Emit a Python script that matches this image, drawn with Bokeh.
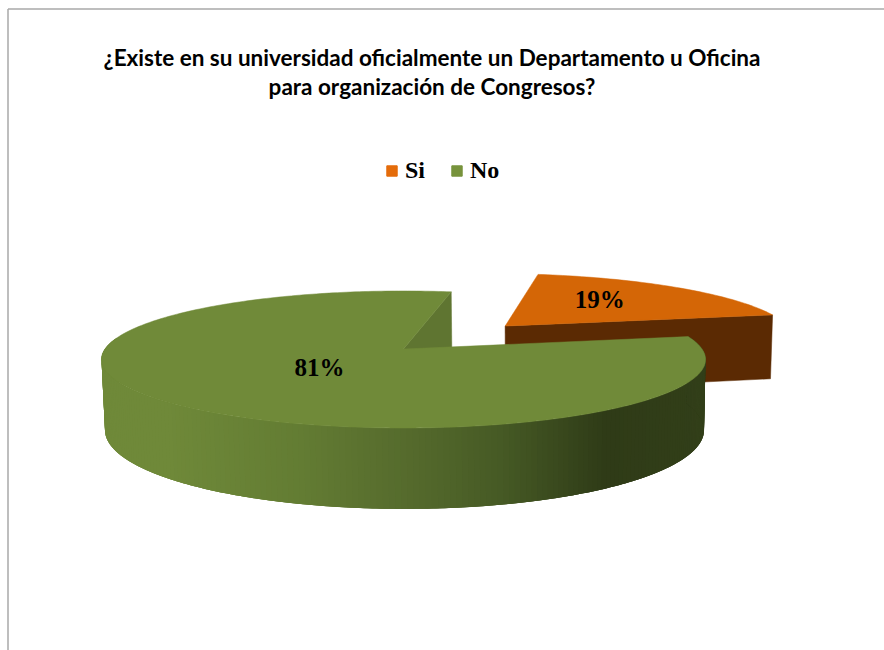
import math
from bokeh.plotting import figure
from bokeh.models import Legend, LegendItem, ColumnDataSource
from bokeh.core.properties import value
from bokeh.embed import file_html
from bokeh.resources import INLINE

# ---- data ----
categories = ["Si", "No"]
values = [19, 81]
labels = ["19%", "81%"]
title_lines = ["¿Existe en su universidad oficialmente un Departamento u Oficina",
               "para organización de Congresos?"]

# ---- styles ----
legend_colors = ["#e46c0a", "#77933c"]
top_colors = ["#d46606", "#708a39"]
orange_wall = "#5b2a03"
green_inner = "#5f7531"
start_deg = 79.4      # where the first slice begins; slices run clockwise from the top view
explode = [0.51, 0.0]
W, H = 884, 650

# perspective projection of the pie: top and bottom discs
TOP = dict(x0=403.0, y0=348.5, a=298.5, b=66.9)
BOT = dict(x0=404.0, y0=417.5, a=296.0, b=77.0)
K = 0.153


def proj(X, T, d):
    den = 1 + K * T
    return d["x0"] + d["a"] * X / den, d["y0"] - d["b"] * T / den


def rim(theta, off, d, rho=1.0):
    t = math.radians(theta)
    return proj(off[0] + rho * math.cos(t), off[1] + rho * math.sin(t), d)


# slice angles from the values
total = sum(values)
si_a1 = start_deg
si_a0 = start_deg - 360.0 * values[0] / total
si_e = explode[0]
no_start = start_deg
no_end = si_a0 + 360.0
ang = math.radians(0.5 * (si_a0 + si_a1))
si_off = (si_e * math.cos(ang), si_e * math.sin(ang))
no_off = (0.0, 0.0)


def lerp_color(c0, c1, f):
    a = [int(c0[i:i + 2], 16) for i in (1, 3, 5)]
    b = [int(c1[i:i + 2], 16) for i in (1, 3, 5)]
    return "#%02x%02x%02x" % tuple(round(p + (q - p) * f) for p, q in zip(a, b))


def wall_shade(x):
    stops = [(100, "#6f8939"), (165, "#6f8939"), (300, "#637c33"), (400, "#566c2d"),
             (500, "#465a25"), (605, "#2f3b17"), (710, "#323f19")]
    for (x0, c0), (x1, c1) in zip(stops, stops[1:]):
        if x <= x1:
            return lerp_color(c0, c1, max(0.0, (x - x0) / (x1 - x0)))
    return stops[-1][1]


p = figure(width=W, height=H, x_range=(0, W), y_range=(H, 0),
           output_backend="svg", toolbar_location=None, min_border=0,
           outline_line_color=None, background_fill_color="white",
           border_fill_color="white")
p.axis.visible = False
p.grid.visible = False

# sheet edges of the source picture
p.line([7.5, 7.5], [H, 8.5], line_color="#a8a8a8", line_width=1.5)
p.line([7.5, W], [8.5, 8.5], line_color="#a8a8a8", line_width=1.5)

# ---- orange slice ----
ox0, oy0 = proj(si_off[0], si_off[1], TOP)
bx0, by0 = proj(si_off[0], si_off[1], BOT)
ox1, oy1 = rim(si_a0, si_off, TOP)
bx1, by1 = rim(si_a0, si_off, BOT)
p.patch([ox0, ox1, bx1, bx0], [oy0, oy1, by1, by0], fill_color=orange_wall, line_color=orange_wall, line_width=0.5)
n = 60
arc = [rim(si_a0 + (si_a1 - si_a0) * i / n, si_off, TOP) for i in range(n + 1)]
p.patch([ox0] + [q[0] for q in arc], [oy0] + [q[1] for q in arc],
        fill_color=top_colors[0], line_color=top_colors[0], line_width=0.5)

# ---- green slice: inner cut face ----
ax, ay = proj(0, 0, TOP)
ax2, ay2 = proj(0, 0, BOT)
rx, ry = rim(no_start, no_off, TOP)
rx2, ry2 = rim(no_start, no_off, BOT)
p.patch([ax, rx, rx2, ax2], [ay, ry, ry2, ay2], fill_color=green_inner, line_color=green_inner, line_width=0.5)

# ---- green slice: outer wall, overlapping strips painted left to right for the gradient ----
m = 200
a_from, a_to = 170.0, no_end
xs, ys, cs = [], [], []
for i in range(m):
    t0 = a_from + (a_to - a_from) * i / m
    t1 = min(a_to, a_from + (a_to - a_from) * (i + 3) / m)
    mid = rim(0.5 * (t0 + a_from + (a_to - a_from) * (i + 1) / m), no_off, TOP)
    tt = [t0 + (t1 - t0) * j / 4 for j in range(5)]
    up = [rim(t, no_off, TOP) for t in tt]
    lo = [rim(t, no_off, BOT) for t in reversed(tt)]
    xs.append([q[0] for q in up + lo])
    ys.append([q[1] for q in up + lo])
    cs.append(wall_shade(mid[0]))
p.patches(xs, ys, fill_color=cs, line_color=None)

# ---- green slice: top face ----
n = 300
arc = [rim(no_start + (no_end - no_start) * i / n, no_off, TOP) for i in range(n + 1)]
p.patch([ax] + [q[0] for q in arc], [ay] + [q[1] for q in arc],
        fill_color=top_colors[1], line_color=top_colors[1], line_width=0.5)

# ---- data labels ----
label_pos = [rim(0.5 * (si_a0 + si_a1) + 5.4, si_off, TOP, 0.60),
             rim(0.5 * (no_start + no_end), no_off, TOP, 0.383)]
p.text([q[0] for q in label_pos], [q[1] for q in label_pos], text=labels,
       text_font=value("Liberation Serif"), text_font_style="bold", text_font_size="25px",
       text_align="center", text_baseline="middle", text_color="#000000")

# ---- title ----
p.text([431.5, 431.5], [56.5, 85.5], text=title_lines, text_font=value("Lato"),
       text_font_style="bold", text_font_size="22.5px", text_align="center",
       text_baseline="middle", text_color="#000000")

# ---- legend ----
src = [ColumnDataSource(dict(l=[-50], r=[-40], t=[-50], b=[-40])) for _ in categories]
items = []
for s, c, name in zip(src, legend_colors, categories):
    r = p.quad(left="l", right="r", top="t", bottom="b", source=s, fill_color=c, line_color=c)
    items.append(LegendItem(label=name, renderers=[r]))
legend = Legend(items=items, orientation="horizontal", location=(385, 466),
                background_fill_alpha=0, border_line_color=None,
                label_text_font="Liberation Serif", label_text_font_style="bold",
                label_text_font_size="24px", label_text_color="#000000",
                glyph_width=13, glyph_height=13, spacing=25, label_standoff=7,
                padding=0, margin=0)
p.add_layout(legend, "center")

open("out.html", "w").write(file_html(p, INLINE))
